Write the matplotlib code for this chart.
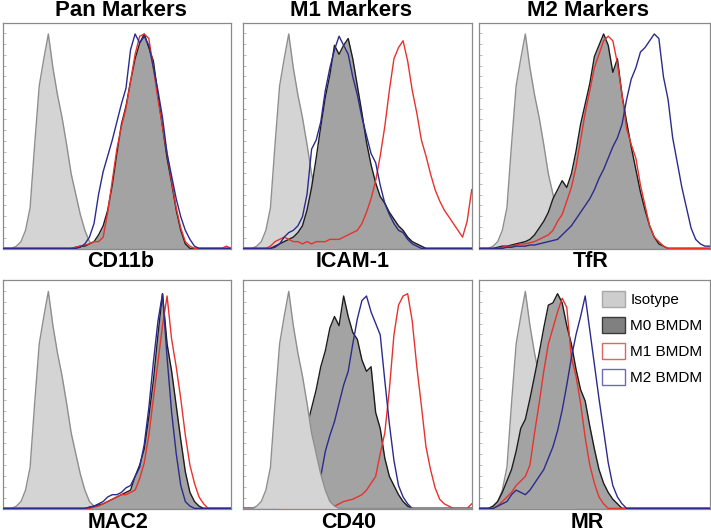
import numpy as np
import matplotlib
matplotlib.use("Agg")
import matplotlib.pyplot as plt
from matplotlib.patches import Patch

plt.rcParams['font.family'] = ['Liberation Sans', 'DejaVu Sans']

# ---------------- data (fluorescence channel 0..100, % of max events) -------------
CHANNEL = np.arange(0, 101, 2)

COLUMN_TITLES = ["Pan Markers", "M1 Markers", "M2 Markers"]
MARKERS = ["CD11b", "ICAM-1", "TfR", "MAC2", "CD40", "MR"]
SERIES = ["Isotype", "M0 BMDM", "M1 BMDM", "M2 BMDM"]

ISOTYPE = [0, 0, 0, 1, 3, 8, 18, 46, 72, 84,
           95, 80, 68, 58, 46, 33, 24, 15, 8, 3,
           1, 0, 0, 0, 0, 0, 0, 0, 0, 0,
           0, 0, 0, 0, 0, 0, 0, 0, 0, 0,
           0, 0, 0, 0, 0, 0, 0, 0, 0, 0,
           0]

CD11B_M0 = [0, 0, 0, 0, 0, 0, 0, 0, 0, 0,
            0, 0, 0, 0, 0, 0, 0.5, 1, 1, 2,
            3, 6, 10, 17, 28, 42, 55, 63, 74, 84,
            91, 95, 89, 83, 68, 54, 40, 29, 17, 8,
            2, 0, 0, 0, 0, 0, 0, 0, 0, 0,
            0]
CD11B_M1 = [0, 0, 0, 0, 0, 0, 0, 0, 0, 0,
            0, 0, 0, 0, 0, 0, 0.5, 1, 1.5, 2,
            3, 3, 5, 16, 30, 44, 54, 62, 74, 86,
            94, 95, 93, 80, 66, 54, 42, 30, 18, 9,
            3, 1, 0, 0, 0, 0, 0, 0, 0, 1,
            0]
CD11B_M2 = [0, 0, 0, 0, 0, 0, 0, 0, 0, 0,
            0, 0, 0, 0, 0, 0, 0, 0.5, 2, 5,
            11, 24, 34, 41, 48, 56, 64, 71, 88, 95,
            91, 94, 90, 80, 70, 58, 42, 32, 22, 14,
            8, 4, 1, 0, 0, 0, 0, 0, 0, 0,
            0]

ICAM1_M0 = [0, 0, 0, 0, 0, 0, 0, 1, 2, 3,
            4, 5, 7, 10, 17, 27, 40, 54, 67, 77,
            90, 86, 90, 93, 84, 72, 60, 47, 37, 29,
            23, 20, 16, 13, 10, 8, 5, 3, 2, 1,
            0, 0, 0, 0, 0, 0, 0, 0, 0, 0,
            0]
ICAM1_M1 = [0, 0, 0, 0, 0, 0, 1, 3, 4, 5,
            4, 3, 3, 2, 3, 2, 3, 3, 3, 4,
            4, 4, 5, 6, 7, 8, 11, 16, 22, 30,
            41, 54, 70, 84, 89, 92, 83, 70, 60, 48,
            41, 33, 26, 21, 17, 14, 11, 8, 5, 12,
            26]
ICAM1_M2 = [0, 0, 0, 0, 0, 0, 0, 0.5, 2, 5,
            7, 8, 10, 14, 24, 44, 48, 56, 70, 80,
            88, 94, 90, 86, 76, 68, 58, 50, 42, 38,
            28, 20, 15, 11, 8, 7, 4, 2, 1, 0,
            0, 0, 0, 0, 0, 0, 0, 0, 0, 0,
            0]

TFR_M0 = [0, 0, 0, 0, 0.5, 1, 1, 1.5, 2, 2.5,
          3, 4, 6, 9, 12, 16, 22, 26, 30, 27,
          33, 43, 55, 64, 73, 85, 90, 95, 90, 78,
          84, 68, 56, 45, 35, 25, 17, 10, 5, 2,
          1, 0, 0, 0, 0, 0, 0, 0, 0, 0,
          0]
TFR_M1 = [0, 0, 0, 0, 0, 0.5, 1, 1, 1.5, 2,
          2, 2.5, 3, 4, 5, 6, 8, 12, 15, 21,
          27, 36, 48, 60, 70, 80, 86, 92, 94, 92,
          82, 68, 53, 46, 40, 28, 19, 10, 5, 3,
          1, 0, 0, 0, 0, 0, 0, 0, 0, 0,
          0]
TFR_M2 = [0, 0, 0, 0, 0, 0, 0.5, 0.5, 1, 1,
          1, 1.5, 1.5, 2, 2.5, 3, 3.5, 4, 6, 8,
          10, 13, 16, 19, 22, 26, 31, 35, 40, 45,
          49, 55, 66, 75, 80, 87, 89, 92, 95, 93,
          76, 66, 49, 38, 27, 18, 9, 4, 2, 1,
          1]

MAC2_M0 = [0, 0, 0, 0, 0, 0, 0, 0, 0, 0,
           0, 0, 0, 0, 0, 0, 0, 0, 0, 0.5,
           1, 1.5, 2, 3, 4, 5, 6, 7, 8, 14,
           19, 26, 40, 56, 76, 94, 72, 60, 45, 30,
           16, 7, 3, 1, 0, 0, 0, 0, 0, 0,
           0]
MAC2_M1 = [0, 0, 0, 0, 0, 0, 0, 0, 0, 0,
           0, 0, 0, 0, 0, 0, 0, 0, 0, 0,
           0.5, 1, 2, 3, 4, 5, 6, 6, 7, 8,
           13, 20, 32, 48, 64, 80, 93, 74, 62, 48,
           32, 19, 11, 5, 2, 0, 0, 0, 0, 0,
           0]
MAC2_M2 = [0, 0, 0, 0, 0, 0, 0, 0, 0, 0,
           0, 0, 0, 0, 0, 0, 0, 0, 0, 0.5,
           1, 2, 3, 5, 6, 6, 7, 9, 10, 14,
           18, 28, 44, 64, 82, 94, 66, 42, 24, 10,
           3, 1, 0, 0, 0, 0, 0, 0, 0, 0,
           0]

CD40_M0 = [0, 0, 0, 0, 0, 0, 0, 0, 1, 2,
           4, 8, 14, 22, 36, 44, 52, 62, 69, 79,
           84, 80, 93, 84, 77, 74, 65, 60, 62, 42,
           35, 22, 14, 10, 6, 3, 1, 0, 0, 0,
           0, 0, 0, 0, 0, 0, 0, 0, 0, 0,
           0]
CD40_M1 = [0, 0, 0, 0, 0, 0, 0, 0, 0, 0,
           0, 0, 0, 0, 0, 0, 0, 0, 0, 0.5,
           1, 2, 3, 3.5, 4, 5, 6, 8, 11, 14,
           24, 33, 52, 76, 89, 93, 94, 82, 62, 45,
           27, 17, 9, 4, 2, 1, 0, 0, 0, 0,
           2]
CD40_M2 = [0, 0, 0, 0, 0, 0, 0, 0, 0.5, 1,
           1, 2, 2, 3, 4, 5, 6, 14, 25, 32,
           38, 46, 54, 60, 72, 83, 91, 93, 86, 81,
           76, 56, 37, 21, 10, 5, 2, 0, 0, 0,
           0, 0, 0, 0, 0, 0, 0, 0, 0, 0,
           0]

MR_M0 = [0, 0, 0, 1, 3, 7, 12, 17, 25, 35,
         39, 48, 58, 68, 79, 89, 90, 94, 90, 80,
         72, 61, 52, 47, 36, 26, 17, 11, 7, 4,
         2, 0, 0, 0, 0, 0, 0, 0, 0, 0,
         0, 0, 0, 0, 0, 0, 0, 0, 0, 0,
         0]
MR_M1 = [0, 0, 0, 0, 1, 3, 5, 7, 10, 12,
         14, 19, 33, 46, 60, 72, 79, 86, 92, 88,
         66, 58, 46, 31, 19, 11, 5, 2, 0, 0,
         0, 0, 0, 0, 0, 0, 0, 0, 0, 0,
         0, 0, 0, 0, 0, 0, 0, 0, 0, 0,
         0]
MR_M2 = [0, 0, 0, 0, 1, 2, 3, 6, 8, 7,
         6, 8, 11, 14, 17, 22, 27, 34, 43, 54,
         66, 76, 84, 93, 78, 63, 48, 34, 20, 10,
         5, 2, 0, 0, 0, 0, 0, 0, 0, 0,
         0, 0, 0, 0, 0, 0, 0, 0, 0, 0,
         0]

M0_DATA = [CD11B_M0, ICAM1_M0, TFR_M0, MAC2_M0, CD40_M0, MR_M0]
M1_DATA = [CD11B_M1, ICAM1_M1, TFR_M1, MAC2_M1, CD40_M1, MR_M1]
M2_DATA = [CD11B_M2, ICAM1_M2, TFR_M2, MAC2_M2, CD40_M2, MR_M2]

# ---------------- styling ----------------
ISO_FILL, ISO_EDGE = '#d4d4d4', '#8e8e8e'
M0_FILL, M0_EDGE = '#a3a3a3', '#1c1c1c'
RED = '#e8322c'
BLUE = '#2b2b8e'
ISO_ON_TOP = [False, False, False, False, True, False]

W, H = 711, 532
fig = plt.figure(figsize=(W / 100, H / 100), dpi=100)

col_px = [(2.7, 231.0), (243.0, 471.7), (479.3, 709.5)]
row_px = [(22.7, 249.3), (280.0, 509.3)]
title_x = [121, 351, 588]
label_x = [[121, 353, 591], [118, 349, 587]]
label_y = [262, 523]


def add_axes(l, t, r, b):
    return fig.add_axes([l / W, 1 - b / H, (r - l) / W, (b - t) / H])


axes = []
for i in range(6):
    row, col = divmod(i, 3)
    l, r = col_px[col]
    t, b = row_px[row]
    ax = add_axes(l, t, r, b)
    axes.append(ax)
    iso_z = 5 if ISO_ON_TOP[i] else 1
    ax.fill_between(CHANNEL, ISOTYPE, 0, color=ISO_FILL, lw=0, zorder=iso_z)
    ax.plot(CHANNEL, ISOTYPE, color=ISO_EDGE, lw=1.0, zorder=iso_z + 0.1)
    ax.fill_between(CHANNEL, M0_DATA[i], 0, color=M0_FILL, lw=0, zorder=2)
    ax.plot(CHANNEL, M0_DATA[i], color=M0_EDGE, lw=1.0, zorder=2.1)
    ax.plot(CHANNEL, M1_DATA[i], color=RED, lw=1.0, zorder=3)
    ax.plot(CHANNEL, M2_DATA[i], color=BLUE, lw=1.0, zorder=3.1)
    ax.set_xlim(0, 100)
    ax.set_ylim(-0.4, 100)
    ax.set_xticks([])
    ax.set_yticks(np.linspace(0, 100, 22)[1:-1])
    ax.set_yticklabels([])
    ax.tick_params(axis='y', direction='in', length=2, width=0.5, colors='#a0a0a0')
    for s in ax.spines.values():
        s.set_color('#8a8a8a')
        s.set_linewidth(0.9)
    fig.text(label_x[row][col] / W, 1 - label_y[row] / H, MARKERS[i],
             ha='center', va='center', fontsize=15.5, fontweight='bold')

for c in range(3):
    fig.text(title_x[c] / W, 1 - 11 / H, COLUMN_TITLES[c], ha='center', va='center',
             fontsize=16, fontweight='bold')

handles = [Patch(facecolor='#cdcdcd', edgecolor='#a8a8a8', lw=1.0),
           Patch(facecolor='#808080', edgecolor='#3a3a3a', lw=1.0),
           Patch(facecolor='white', edgecolor='#e06464', lw=1.0),
           Patch(facecolor='white', edgecolor='#6b6bb8', lw=1.0)]
axes[5].legend(handles, SERIES, loc='upper left',
               bbox_to_anchor=(602 / W, 1 - 291 / H), bbox_transform=fig.transFigure,
               frameon=False, borderpad=0, borderaxespad=0, fontsize=11,
               handlelength=1.5, handleheight=1.25, handletextpad=0.35,
               labelspacing=0.63)

fig.savefig('out.png', dpi=100)
